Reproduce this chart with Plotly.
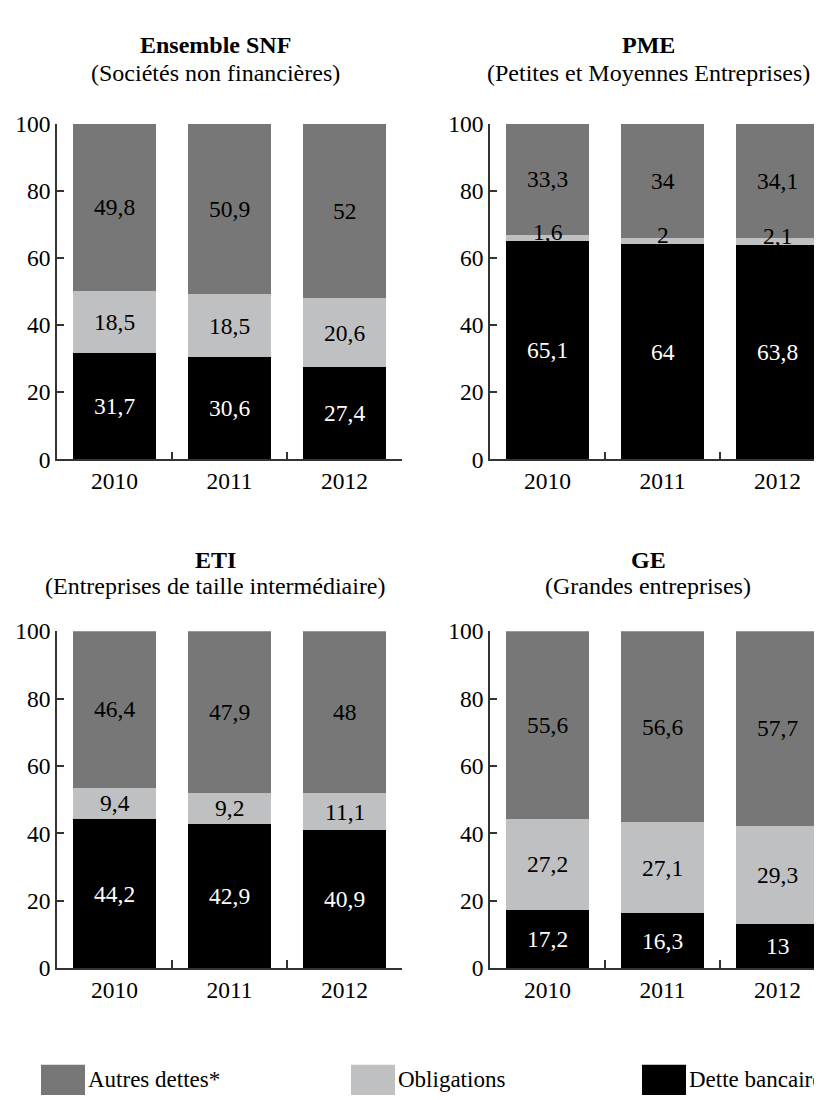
import plotly.graph_objects as go

W, H = 822, 1100

years = ["2010", "2011", "2012"]
series_names = ["Dette bancaire", "Obligations", "Autres dettes*"]
series_colors = ["#000000", "#bfc0c1", "#767776"]
text_colors = ["#ffffff", "#000000", "#000000"]

panel_titles = ["Ensemble SNF", "PME", "ETI", "GE"]
panel_subtitles = ["(Sociétés non financières)", "(Petites et Moyennes Entreprises)",
                   "(Entreprises de taille intermédiaire)", "(Grandes entreprises)"]

snf_bancaire = [31.7, 30.6, 27.4]
snf_obligations = [18.5, 18.5, 20.6]
snf_autres = [49.8, 50.9, 52]

pme_bancaire = [65.1, 64, 63.8]
pme_obligations = [1.6, 2, 2.1]
pme_autres = [33.3, 34, 34.1]

eti_bancaire = [44.2, 42.9, 40.9]
eti_obligations = [9.4, 9.2, 11.1]
eti_autres = [46.4, 47.9, 48]

ge_bancaire = [17.2, 16.3, 13]
ge_obligations = [27.2, 27.1, 29.3]
ge_autres = [55.6, 56.6, 57.7]

panels = [
    [snf_bancaire, snf_obligations, snf_autres],
    [pme_bancaire, pme_obligations, pme_autres],
    [eti_bancaire, eti_obligations, eti_autres],
    [ge_bancaire, ge_obligations, ge_autres],
]

FONT = "Liberation Serif, Times New Roman, Times, DejaVu Serif, serif"
FS = 23.5
FT = 24
FL = 23
AXC = "#333333"


def px(x):
    return x / W


def py(y):
    return 1 - y / H


def fmt(v):
    return f"{v:g}".replace(".", ",")


# panel geometry in pixels: (x_left, x_right, y_top(100), y_bottom(0))
geo = [
    (49, 394, 105, 449),
    (482, 827, 105, 449),
    (49, 394, 625, 970),
    (482, 827, 625, 970),
]
title_pos = [(207, 25, 53), (640, 25, 53), (207, 552, 579), (640, 552, 579)]

fig = go.Figure()
layout = {}
annotations = []
for i, data in enumerate(panels):
    sfx = "" if i == 0 else str(i + 1)
    xa, ya = "x" + sfx, "y" + sfx
    base = [0.0] * len(years)
    for j, vals in enumerate(data):
        fig.add_trace(go.Bar(
            x=years, y=vals, xaxis=xa, yaxis=ya,
            name=series_names[j], marker=dict(color=series_colors[j], line=dict(width=0)),
            showlegend=False, hoverinfo="skip",
        ))
        for k, v in enumerate(vals):
            annotations.append(dict(
                x=k, y=base[k] + v / 2.0, xref=xa, yref=ya,
                text=fmt(v), showarrow=False, xanchor="center", yanchor="middle",
                yshift=6 if v < 5 else 0,
                font=dict(family=FONT, size=FS, color=text_colors[j]),
            ))
            base[k] += v
    x0, x1, yt, yb = geo[i]
    right_px = min(x1, W)
    cat_w = (x1 - x0) / 3.0
    rng_hi = -0.5 + (right_px - x0) / cat_w
    layout["xaxis" + sfx] = dict(
        domain=[px(x0), px(right_px)], anchor=ya, type="category",
        range=[-0.5, rng_hi], tickson="boundaries", ticks="inside", ticklen=8,
        tickwidth=1.5, tickcolor=AXC, showline=True, linecolor=AXC, linewidth=1.5,
        showgrid=False, zeroline=False,
        tickfont=dict(family=FONT, size=FS, color="#000"),
    )
    layout["yaxis" + sfx] = dict(
        domain=[py(yb), py(yt)], anchor=xa, range=[0, 100],
        tickvals=[0, 20, 40, 60, 80, 100], ticks="inside", ticklen=7,
        tickwidth=1.5, tickcolor=AXC, showline=True, linecolor=AXC, linewidth=1.5,
        showgrid=False, zeroline=False,
        tickfont=dict(family=FONT, size=FS, color="#000"),
    )

for i in range(4):
    cx, ty, sy = title_pos[i]
    annotations.append(dict(x=px(cx), y=py(ty), xref="paper", yref="paper",
                            text="<b>" + panel_titles[i] + "</b>", showarrow=False,
                            xanchor="center", yanchor="middle",
                            font=dict(family=FONT, size=FT, color="#000")))
    annotations.append(dict(x=px(cx), y=py(sy), xref="paper", yref="paper",
                            text=panel_subtitles[i], showarrow=False,
                            xanchor="center", yanchor="middle",
                            font=dict(family=FONT, size=FT, color="#000")))

# legend (drawn as shapes + text)
legend_items = [("Autres dettes*", series_colors[2], 33),
                ("Obligations", series_colors[1], 343),
                ("Dette bancaire", series_colors[0], 634)]
shapes = []
for label, col, lx in legend_items:
    shapes.append(dict(type="rect", xref="paper", yref="paper",
                       x0=px(lx), x1=px(lx + 44), y0=py(1100), y1=py(1069),
                       fillcolor=col, line=dict(width=0)))
    annotations.append(dict(x=px(lx + 45), y=py(1084), xref="paper", yref="paper",
                            text=label, showarrow=False, xanchor="left", yanchor="middle",
                            font=dict(family=FONT, size=FL, color="#000")))

fig.update_layout(
    width=W, height=H, margin=dict(l=0, r=0, t=0, b=0),
    paper_bgcolor="white", plot_bgcolor="white",
    barmode="stack", bargap=0.28,
    font=dict(family=FONT, size=FS, color="#000"),
    annotations=annotations, shapes=shapes,
    showlegend=False,
    **layout,
)

fig.write_html("out.html")
